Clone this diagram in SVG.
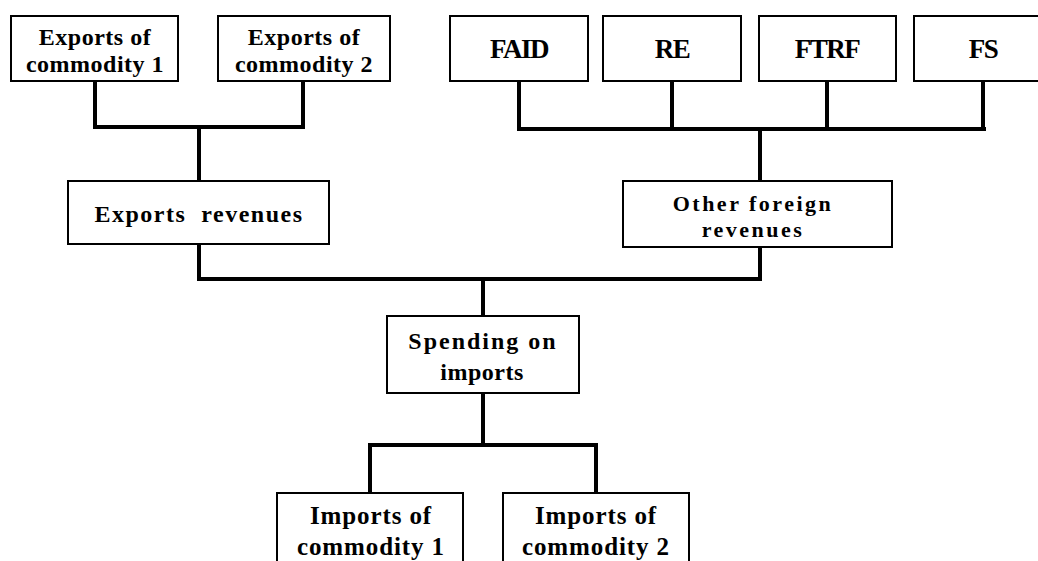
<svg xmlns="http://www.w3.org/2000/svg" width="1038" height="561" viewBox="0 0 1038 561">
<style>
.box{fill:#fff;stroke:#000;stroke-width:2}
.t{font-family:"Liberation Serif","Times New Roman",serif;font-weight:bold;fill:#000;text-anchor:middle}
.s{font-size:24px;letter-spacing:0.5px}
.e{font-size:24px;letter-spacing:1.5px}
.p{font-size:24px;letter-spacing:2px}
.a{font-size:27px;letter-spacing:-1.5px}
.o{font-size:22px;letter-spacing:2.5px}
.i{font-size:25px;letter-spacing:0.9px}
.c line{stroke:#000;stroke-width:4;stroke-linecap:square}
</style>
<rect width="1038" height="561" fill="#fff"/>
<g class="c" id="connectors">
<line x1="95" y1="82" x2="95" y2="127"/>
<line x1="303" y1="82" x2="303" y2="127"/>
<line x1="95" y1="127" x2="303" y2="127"/>
<line x1="199" y1="127" x2="199" y2="180"/>
<line x1="519" y1="82" x2="519" y2="129"/>
<line x1="672" y1="82" x2="672" y2="129"/>
<line x1="827" y1="82" x2="827" y2="129"/>
<line x1="983" y1="82" x2="983" y2="129"/>
<line x1="519" y1="129" x2="984" y2="129"/>
<line x1="760" y1="129" x2="760" y2="180"/>
<line x1="199" y1="245" x2="199" y2="279"/>
<line x1="760" y1="248" x2="760" y2="279"/>
<line x1="199" y1="279" x2="760" y2="279"/>
<line x1="483" y1="279" x2="483" y2="315"/>
<line x1="483" y1="394" x2="483" y2="445"/>
<line x1="370" y1="445" x2="596" y2="445"/>
<line x1="370" y1="445" x2="370" y2="492"/>
<line x1="596" y1="445" x2="596" y2="492"/>
</g>
<g id="exp1"><rect class="box" x="11" y="16" width="167" height="65"/><text class="t s" x="95" y="45">Exports of</text><text class="t s" x="95" y="72">commodity 1</text></g>
<g id="exp2"><rect class="box" x="218" y="16" width="172" height="65"/><text class="t s" x="304" y="45">Exports of</text><text class="t s" x="304" y="72">commodity 2</text></g>
<g id="faid"><rect class="box" x="450" y="16" width="138" height="65"/><text class="t a" x="519" y="58">FAID</text></g>
<g id="re"><rect class="box" x="603" y="16" width="138" height="65"/><text class="t a" x="672" y="58">RE</text></g>
<g id="ftrf"><rect class="box" x="759" y="16" width="137" height="65"/><text class="t a" x="827" y="58">FTRF</text></g>
<g id="fs"><rect class="box" x="914" y="16" width="138" height="65"/><text class="t a" x="983" y="58">FS</text></g>
<g id="exprev"><rect class="box" x="68" y="181" width="261" height="63"/><text class="t e" x="199" y="222" xml:space="preserve">Exports  revenues</text></g>
<g id="other"><rect class="box" x="623" y="181" width="269" height="66"/><text class="t o" x="753" y="211">Other foreign</text><text class="t o" x="753" y="237">revenues</text></g>
<g id="spending"><rect class="box" x="387" y="316" width="192" height="77"/><text class="t p" x="483" y="349">Spending on</text><text class="t s" x="482" y="380">imports</text></g>
<g id="imp1"><rect class="box" x="277" y="493" width="186" height="82"/><text class="t i" x="371" y="524">Imports of</text><text class="t i" x="371" y="555">commodity 1</text></g>
<g id="imp2"><rect class="box" x="503" y="493" width="186" height="82"/><text class="t i" x="596" y="524">Imports of</text><text class="t i" x="596" y="555">commodity 2</text></g>
</svg>
